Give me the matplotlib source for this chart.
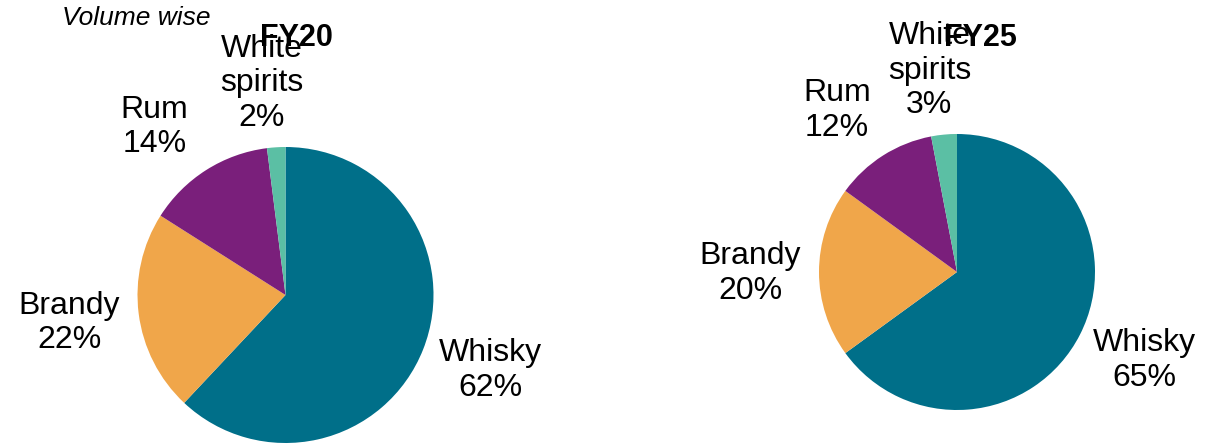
import matplotlib.pyplot as plt

plt.rcParams["font.family"] = ["Liberation Sans", "DejaVu Sans"]

categories = ["Whisky", "Brandy", "Rum", "White\nspirits"]
fy20_share = [62, 22, 14, 2]
fy25_share = [65, 20, 12, 3]
years = ["FY20", "FY25"]

colors = ["#006F89", "#F0A64A", "#7A1F7B", "#5BBFA4"]

# label anchor points, in units of the pie radius
label_pos = {
    "FY20": [(1.385, -0.51), (-1.46, -0.19), (-0.885, 1.135), (-0.16, 1.43)],
    "FY25": [(1.36, -0.64), (-1.5, -0.01), (-0.87, 1.17), (-0.20, 1.46)],
}

W, H = 1220, 446
fig = plt.figure(figsize=(W / 100, H / 100), dpi=100)

# pie centre (px from left, px from top), radius in px, title x in px
pies = [
    ("FY20", fy20_share, 285.5, 295, 148, 296),
    ("FY25", fy25_share, 957, 272, 138, 980),
]

for year, values, cx, cy, r, title_x in pies:
    ax = fig.add_axes([(cx - r) / W, (H - cy - r) / H, 2 * r / W, 2 * r / H])
    ax.pie(values, colors=colors, startangle=90, counterclock=False,
           radius=1, wedgeprops=dict(linewidth=0))
    ax.set_xlim(-1, 1)
    ax.set_ylim(-1, 1)
    ax.set_aspect("equal")
    ax.axis("off")
    for cat, val, (lx, ly) in zip(categories, values, label_pos[year]):
        ax.text(lx, ly, f"{cat}\n{val}%", ha="center", va="center",
                fontsize=23, linespacing=1.2, clip_on=False)
    fig.text(title_x / W, 1 - 38 / H, year, ha="center", va="center",
             fontsize=22, fontweight="bold")

fig.text(62 / W, 1 - 18 / H, "Volume wise", ha="left", va="center",
         fontsize=19, fontstyle="italic")

fig.savefig("out.png", dpi=100)
